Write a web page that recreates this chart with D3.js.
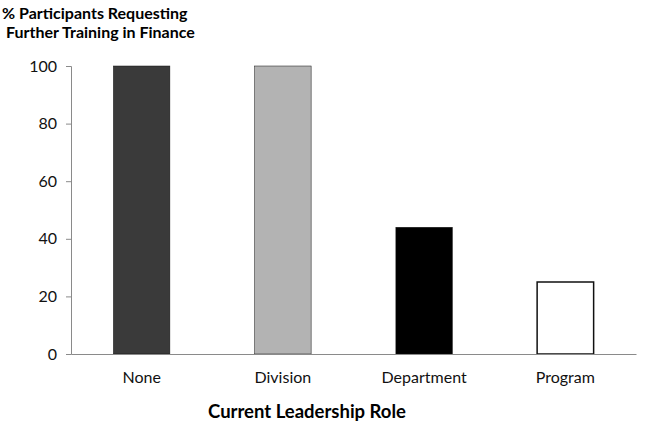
<!DOCTYPE html>
<html>
<head>
<meta charset="utf-8">
<script src="https://cdn.jsdelivr.net/npm/d3@7"></script>
<style>
  body { margin: 0; background: #fff; }
  text { font-family: Lato, "Open Sans", sans-serif; }
</style>
</head>
<body>
<svg id="chart" width="669" height="426"></svg>
<script>
const roles = ["None", "Division", "Department", "Program"];
const percents = [100, 100, 44, 25];
const yTicks = [0, 20, 40, 60, 80, 100];
const fills = ["#3a3a3a", "#b3b3b3", "#000000", "#ffffff"];

const svg = d3.select("#chart");
const margin = { left: 71, right: 33, top: 66, bottom: 72 };
const width = 669, height = 426;

const x = d3.scaleBand()
    .domain(roles)
    .range([margin.left, width - margin.right])
    .paddingInner(0.6)
    .paddingOuter(0.3);

const y = d3.scaleLinear()
    .domain([0, 100])
    .range([height - margin.bottom, margin.top]);

// Bars
svg.append("g")
    .selectAll("rect")
    .data(roles)
    .join("rect")
    .attr("x", d => x(d))
    .attr("y", (d, i) => y(percents[i]))
    .attr("width", x.bandwidth())
    .attr("height", (d, i) => y(0) - y(percents[i]))
    .attr("fill", (d, i) => fills[i])
    .attr("stroke", "#111")
    .attr("stroke-width", (d, i) => i === 3 ? 1.5 : 0.5);

// Y axis
const yAxis = svg.append("g")
    .attr("transform", `translate(${margin.left},0)`)
    .call(d3.axisLeft(y).tickValues(yTicks).tickSize(5).tickPadding(9));
yAxis.select(".domain").attr("stroke", "#8a8a8a");
yAxis.selectAll(".tick line").attr("stroke", "#8a8a8a");
yAxis.selectAll(".tick text").attr("font-size", 16).attr("fill", "#111")
    .style("font-family", "Lato, 'Open Sans', sans-serif");

// X axis
const xAxis = svg.append("g")
    .attr("transform", `translate(0,${y(0)})`)
    .call(d3.axisBottom(x).tickSize(0).tickPadding(18));
xAxis.select(".domain").attr("stroke", "#8a8a8a");
xAxis.selectAll(".tick text").attr("font-size", 16).attr("fill", "#111")
    .style("font-family", "Lato, 'Open Sans', sans-serif");

// Titles
svg.append("text")
    .attr("x", 2).attr("y", 19)
    .attr("font-size", 16).attr("font-weight", "bold")
    .text("% Participants Requesting");
svg.append("text")
    .attr("x", 6).attr("y", 38)
    .attr("font-size", 16).attr("font-weight", "bold")
    .text("Further Training in Finance");
svg.append("text")
    .attr("x", 307).attr("y", 418)
    .attr("text-anchor", "middle")
    .attr("font-size", 18.5).attr("font-weight", "bold")
    .text("Current Leadership Role");
</script>
</body>
</html>
